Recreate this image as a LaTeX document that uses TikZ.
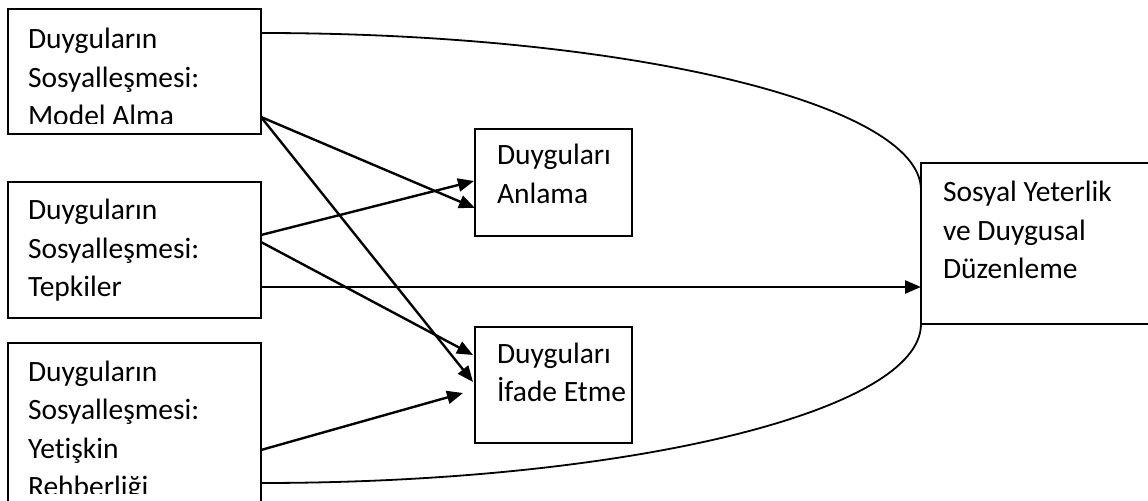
\documentclass[tikz,border=0pt]{standalone}
\usepackage{fontspec}
\setmainfont[Ligatures=NoCommon]{Carlito}
\usetikzlibrary{arrows.meta,calc}
\begin{document}
\begin{tikzpicture}[x=1bp,y=-1bp,
  box/.style={draw, line width=1.8bp, rectangle, inner sep=0pt, outer sep=0pt, anchor=north west},
  lbl/.style={anchor=base west, inner sep=0pt, outer sep=0pt, align=left, font=\fontsize{29.5bp}{38.5bp}\selectfont},
  arr/.style={line width=2.4bp, -{Triangle[length=16bp,width=13bp]}},
  curve/.style={line width=1.8bp}]
\useasboundingbox[fill=white] (0,0) rectangle (1148,501);
% boxes
\node[box, minimum width=253bp, minimum height=125bp] (b1) at (8,9) {};
\node[box, minimum width=253bp, minimum height=136bp] (b2) at (8,182) {};
\node[box, minimum width=253bp, minimum height=180bp] (b3) at (8,343) {};
\node[box, minimum width=157bp, minimum height=107bp] (anl) at (475,129) {};
\node[box, minimum width=157bp, minimum height=116bp] (ifd) at (475,327) {};
\node[box, minimum width=240bp, minimum height=161bp] (sos) at (921,163) {};
% texts (anchor = baseline of the last line)
\begin{scope}
\clip (b1.north west) rectangle ($(b1.north east)+(0,115)$);
\node[lbl] (t1) at (28,126) {Duyguların\\Sosyalleşmesi:\\Model Alma};
\end{scope}
\node[lbl] (t2) at (28,297) {Duyguların\\Sosyalleşmesi:\\Tepkiler};
\begin{scope}
\clip (b3.north west) rectangle ($(b3.north east)+(0,150)$);
\node[lbl] (t3) at (28,496.5) {Duyguların\\Sosyalleşmesi:\\Yetişkin\\Rehberliği};
\end{scope}
\node[lbl] (t4) at (497,203.5) {Duyguları\\Anlama};
\node[lbl] (t5) at (497,401.5) {Duyguları\\İfade Etme};
\node[lbl] (t6) at (943,279) {Sosyal Yeterlik\\ve Duygusal\\Düzenleme};
% curves
\draw[curve] ($(b1.north east)+(0,24)$) .. controls +(364.5,0) and +(0,-86.7) .. ($(sos.north west)+(0,27)$);
\draw[curve] ($(b3.north east)+(0,140)$) .. controls +(364.5,0) and +(0,87.8) .. (sos.south west);
% arrows
\draw[arr] ($(b1.north east)+(0,108)$) -- ($(anl.north west)+(0,79)$);
\draw[arr] ($(b1.north east)+(0,108)$) -- ($(ifd.north west)+(-2,55)$);
\draw[arr] ($(b2.north east)+(0,53)$) -- ($(anl.north west)+(-1,52)$);
\draw[arr] ($(b2.north east)+(0,60)$) -- ($(ifd.north west)+(-2,28)$);
\draw[arr] ($(b2.north east)+(0,105)$) -- ($(sos.north west)+(0,124)$);
\draw[arr] ($(b3.north east)+(0,107)$) -- ($(ifd.north west)+(-12,66)$);
\end{tikzpicture}
\end{document}
